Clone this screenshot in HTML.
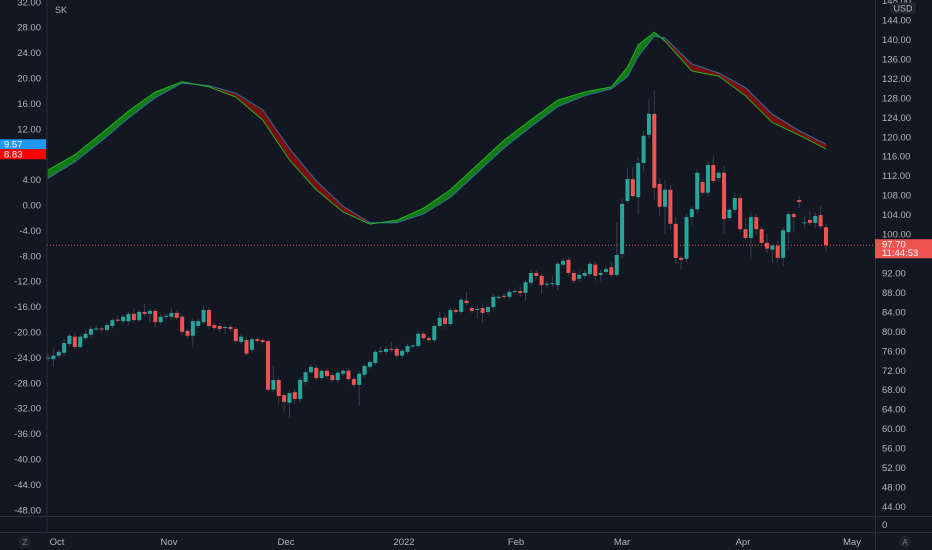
<!DOCTYPE html>
<html><head><meta charset="utf-8">
<style>
html,body{margin:0;padding:0;background:#131722;}
svg{display:block;font-family:"Liberation Sans",sans-serif;}
</style></head>
<body>
<svg id="chart" width="932" height="550" xmlns="http://www.w3.org/2000/svg">
<rect x="0" y="0" width="932" height="550" fill="#131722"/>
<g id="grid"></g>
<g id="osc"></g>
<g id="candles"></g>
<g id="axes"></g>
</svg>
<script>
const opens=[74.5,74.3,75.0,75.6,77.4,78.9,76.8,78.6,79.3,80.5,80.6,80.3,81.1,82.4,82.1,82.1,83.6,82.3,84.0,83.6,84.2,81.9,83.0,83.0,83.8,83.0,80.1,79.1,81.1,81.9,84.4,81.3,81.1,80.7,80.9,80.5,77.8,78.2,76.2,78.4,78.2,78.0,68.0,70.0,66.9,65.3,67.5,66.1,69.6,71.6,72.5,70.4,71.9,71.0,70.0,71.3,71.9,70.2,69.0,71.1,72.7,73.5,75.8,75.8,76.4,76.4,75.0,75.8,77.0,77.0,79.5,78.6,78.2,81.1,82.8,81.5,84.4,84.0,86.3,84.8,84.4,84.8,84.0,85.0,86.9,87.3,87.1,88.1,88.3,87.9,90.0,92.0,91.4,89.6,89.7,89.5,93.7,94.7,92.0,90.8,91.4,91.8,93.7,91.6,92.2,93.2,91.6,95.9,106.8,111.3,107.6,114.6,120.4,124.7,110.3,105.6,109.1,102.1,95.1,94.9,103.5,105.1,110.7,108.5,114.2,111.5,112.6,103.3,105.0,107.4,101.0,99.2,103.5,101.0,98.2,96.8,97.6,95.1,100.4,104.1,107.0,102.3,102.9,102.3,103.9,101.4];
const closes=[74.6,75.0,75.8,77.6,79.1,76.8,78.9,79.5,80.5,80.6,80.4,81.3,82.3,82.2,83.0,83.6,82.3,84.0,83.6,84.2,81.9,83.0,83.2,83.8,82.8,79.9,79.1,82.1,82.1,84.4,81.1,80.7,80.5,80.9,80.5,78.0,78.9,75.4,78.4,78.0,77.8,68.0,70.0,66.7,65.5,67.3,66.1,70.0,71.6,72.7,70.4,71.9,70.8,70.0,71.5,71.9,70.2,69.0,71.3,72.9,73.7,75.8,76.0,76.4,76.2,75.0,76.0,77.0,77.1,79.5,78.6,78.2,81.1,82.8,81.5,84.4,84.0,86.5,85.8,84.2,84.6,83.8,85.0,87.1,87.1,87.1,88.1,88.3,87.9,90.1,92.0,91.4,89.5,89.8,89.9,93.9,94.5,92.0,90.4,91.6,92.0,93.9,91.4,92.0,92.8,91.6,95.7,106.2,111.3,107.8,114.6,120.2,124.7,109.5,105.6,109.1,102.1,95.1,94.7,103.5,105.1,112.6,108.5,114.2,110.9,112.6,103.1,105.0,107.4,101.0,99.2,103.5,101.0,98.2,97.0,97.6,95.1,100.8,104.1,103.5,106.6,102.4,102.3,103.7,101.6,97.7];
const wickUp=[0.8,1.6,0.6,1.0,0.6,1.0,0.5,0.8,0.5,0.6,0.4,0.5,0.4,0.9,0.5,0.5,1.2,0.5,1.6,0.5,0.5,0.6,0.5,0.9,0.5,0.5,0.4,0.5,0.6,0.9,0.5,0.7,0.5,0.5,0.6,0.5,0.4,0.6,0.6,0.5,0.5,0.5,3.0,0.6,0.4,0.6,0.6,0.5,0.5,0.6,0.6,0.5,0.5,0.5,0.5,0.4,0.5,0.5,0.5,0.4,0.5,0.5,0.9,0.6,1.4,0.6,0.5,0.5,0.4,0.5,0.4,0.5,0.5,1.2,0.8,0.5,0.4,0.5,1.8,0.5,0.6,1.0,0.5,0.6,0.4,0.5,0.7,0.5,1.0,0.5,0.6,0.5,0.5,0.5,1.6,0.5,0.6,0.6,0.5,0.8,0.5,0.5,0.6,0.6,0.7,1.2,6.6,1.0,2.4,2.5,1.2,1.0,3.0,4.8,1.2,2.0,1.0,1.5,0.5,0.6,0.5,0.6,0.6,0.8,1.8,0.4,1.4,0.5,1.0,0.8,2.2,1.0,0.6,0.6,2.0,0.5,1.0,0.6,0.6,0.4,0.8,1.4,1.8,0.8,1.8,0.6,0.5,0.6];
const wickDn=[0.6,1.6,0.5,0.6,0.5,0.6,0.4,0.5,0.5,0.4,0.6,0.4,0.5,0.4,0.5,0.8,0.5,0.4,0.5,1.8,1.2,0.5,0.5,0.5,0.4,0.5,0.5,2.4,0.5,0.5,0.6,0.5,0.7,1.4,0.6,0.5,0.5,0.4,0.7,0.5,0.5,0.4,0.5,1.6,2.2,3.0,1.0,0.8,0.6,0.4,0.5,0.5,0.6,0.4,0.5,0.5,0.5,0.6,4.4,0.5,0.4,0.5,0.4,0.6,0.5,0.6,0.5,0.5,0.5,0.4,0.5,0.6,0.5,0.5,1.0,0.4,0.5,0.6,0.5,0.4,1.8,2.0,0.5,0.6,0.5,0.5,0.6,0.5,0.8,1.6,0.6,0.5,1.8,0.5,0.6,1.0,0.5,0.5,0.5,0.5,0.5,0.6,1.0,1.2,0.5,0.6,0.5,1.0,0.5,0.5,3.6,2.0,0.8,2.4,1.8,5.5,1.4,1.2,2.0,0.8,1.6,1.0,0.5,0.8,0.5,0.8,3.0,0.5,0.6,0.5,0.5,4.4,1.2,0.5,1.0,2.8,1.0,1.8,3.6,3.2,1.2,1.0,0.6,1.0,0.6,1.2,1.6,0.8];
const oscBar=[0,5,10,15,20,25,30,35,40,45,50,55,60,65,70,75,80,85,90,95,100,105,108,110,113,115,120,125,130,135,140,145];
const oscFast=[5.5,7.9,11.3,14.8,17.8,19.4,18.6,17.0,13.4,7.1,2.4,-1.1,-3.0,-2.4,-0.5,2.4,6.3,10.2,13.4,16.5,17.8,18.6,21.7,25.2,27.2,25.8,21.1,20.3,17.2,13.0,11.0,8.83];
const oscSlow=[4.2,6.8,10.1,13.7,16.9,19.2,18.8,17.6,15.0,8.9,3.8,-0.2,-2.8,-2.8,-1.4,1.2,5.1,9.0,12.3,15.5,17.2,18.3,20.2,23.4,26.6,26.3,22.2,20.8,18.5,14.3,11.7,9.57];
const leftTicks=[32,28,24,20,16,12,8,4,0,-4,-8,-12,-16,-20,-24,-28,-32,-36,-40,-44,-48];
const rightTicks=[148,144,140,136,132,128,124,120,116,112,108,104,100,96,92,88,84,80,76,72,68,64,60,56,52,48,44];
const monthLabels=["Oct","Nov","Dec","2022","Feb","Mar","Apr","May"];
const monthX=[57,169,286,404,516,622,743,852];
const lastPrice=97.70;

const NS="http://www.w3.org/2000/svg";
const X0=48, X1=826;
function xBar(i){return X0+i*(X1-X0)/(opens.length-1);}
function yPrice(p){return 20+(144-p)*4.865;}
function yOsc(v){return 205-v*6.35;}
function mk(tag,attrs,parent){const e=document.createElementNS(NS,tag);for(const k in attrs)e.setAttribute(k,attrs[k]);parent.appendChild(e);return e;}

const grid=document.getElementById('grid');
const axes=document.getElementById('axes');
let l=mk('line',{x1:47,y1:0,x2:47,y2:532,stroke:'#2a2e39','stroke-width':1},axes);


l=mk('line',{x1:875.5,y1:0,x2:875.5,y2:550,stroke:'#2a2e39','stroke-width':1},axes);


l=mk('line',{x1:0,y1:516.5,x2:932,y2:516.5,stroke:'#2a2e39','stroke-width':1},axes);


l=mk('line',{x1:0,y1:532.5,x2:932,y2:532.5,stroke:'#2a2e39','stroke-width':1},axes);



leftTicks.forEach(v=>{
  const t=mk('text',{x:41,y:yOsc(v)+3.5,fill:'#b2b5be','font-size':9.5,'text-anchor':'end'},axes);
  t.textContent=v.toFixed(2);
  
  
});
rightTicks.forEach(v=>{
  const t=mk('text',{x:882,y:yPrice(v)+3.5,fill:'#b2b5be','font-size':9.5},axes);
  t.textContent=v.toFixed(2);
  
  
});
let t=mk('text',{x:882,y:528,fill:'#b2b5be','font-size':9.5},axes);t.textContent='0';


let r=mk('rect',{x:891,y:3,width:24,height:10,rx:2,fill:'#1e222d',stroke:'#2a2e39'},axes);


t=mk('text',{x:903,y:11.5,fill:'#b2b5be','font-size':9,'text-anchor':'middle'},axes);t.textContent='USD';


t=mk('text',{x:55,y:13,fill:'#b2b5be','font-size':9},axes);t.textContent='SK';


monthLabels.forEach((m,i)=>{
  const e=mk('text',{x:monthX[i],y:545,fill:'#b2b5be','font-size':9.5,'text-anchor':'middle'},axes);
  e.textContent=m;
  
  
});
let c=mk('circle',{cx:25,cy:542,r:6,fill:'#1e222d'},axes);


t=mk('text',{x:25,y:545,fill:'#787b86','font-size':8,'text-anchor':'middle'},axes);t.textContent='Z';
c=mk('circle',{cx:905,cy:542,r:6,fill:'#1e222d'},axes);


t=mk('text',{x:905,y:545,fill:'#787b86','font-size':8,'text-anchor':'middle'},axes);t.textContent='A';

const osc=document.getElementById('osc');
for(let k=0;k<oscBar.length-1;k++){
  const xa=xBar(oscBar[k]),xb=xBar(oscBar[k+1]);
  const up=(oscFast[k]+oscFast[k+1])>=(oscSlow[k]+oscSlow[k+1]);
  const p=mk('polygon',{points:`${xa},${yOsc(oscFast[k])} ${xb},${yOsc(oscFast[k+1])} ${xb},${yOsc(oscSlow[k+1])} ${xa},${yOsc(oscSlow[k])}`,fill:up?'#137a13':'#7a0d0d',stroke:up?'#137a13':'#7a0d0d','stroke-width':0.6},osc);
  
  
}
let pl=mk('polyline',{points:oscBar.map((b,i)=>`${xBar(b)},${yOsc(oscSlow[i])}`).join(' '),fill:'none',stroke:'#2e6f9e','stroke-width':1},osc);


pl=mk('polyline',{points:oscBar.map((b,i)=>`${xBar(b)},${yOsc(oscFast[i])}`).join(' '),fill:'none',stroke:'#22b022','stroke-width':1},osc);


r=mk('rect',{x:0,y:yOsc(oscSlow[oscSlow.length-1])-5,width:46,height:10,fill:'#2196f3'},axes);


t=mk('text',{x:4,y:yOsc(oscSlow[oscSlow.length-1])+3.5,fill:'#fff','font-size':9.5},axes);t.textContent=oscSlow[oscSlow.length-1].toFixed(2);
r=mk('rect',{x:0,y:yOsc(oscSlow[oscSlow.length-1])+5,width:46,height:10,fill:'#f00'},axes);


t=mk('text',{x:4,y:yOsc(oscSlow[oscSlow.length-1])+13.5,fill:'#fff','font-size':9.5},axes);t.textContent=oscFast[oscFast.length-1].toFixed(2);

const cg=document.getElementById('candles');
const lp=mk('line',{x1:47,y1:yPrice(lastPrice),x2:875,y2:yPrice(lastPrice),stroke:'#ef5350','stroke-width':1,'stroke-dasharray':'1,2'},cg);


opens.forEach((o,i)=>{
  const cl=closes[i], up=cl>=o, col=up?'#26a69a':'#ef5350';
  const x=xBar(i);
  const hi=Math.max(o,cl)+wickUp[i], lo=Math.min(o,cl)-wickDn[i];
  const w=mk('line',{x1:x,y1:yPrice(hi),x2:x,y2:yPrice(lo),stroke:'#3a3e4a','stroke-width':1},cg);
  
  
  const yt=yPrice(Math.max(o,cl)), yb=yPrice(Math.min(o,cl));
  const b=mk('rect',{x:x-2,y:yt,width:4,height:Math.max(1,yb-yt),fill:col},cg);
  
  
});
r=mk('rect',{x:875,y:yPrice(lastPrice)-6,width:57,height:19,fill:'#ef5350'},axes);


t=mk('text',{x:882,y:yPrice(lastPrice)+2.5,fill:'#fff','font-size':9.5},axes);t.textContent=lastPrice.toFixed(2);
t=mk('text',{x:882,y:yPrice(lastPrice)+11,fill:'#fff','font-size':9.5},axes);t.textContent='11:44:53';
</script>
</body></html>
